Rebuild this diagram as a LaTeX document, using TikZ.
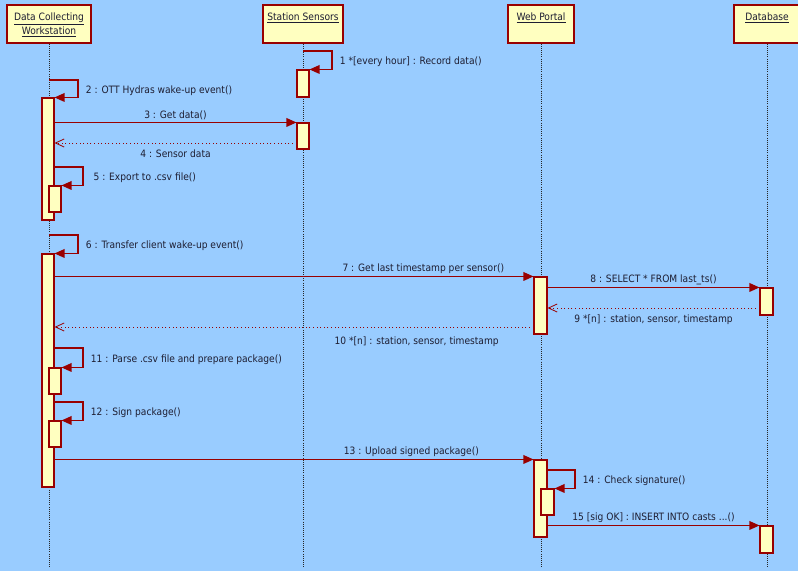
\documentclass[tikz,border=0pt]{standalone}
\usepackage{fontspec}
\setmainfont{DejaVu Sans}[FakeStretch=0.9]
\usetikzlibrary{arrows.meta,fit,positioning}
\definecolor{bgblue}{HTML}{99CCFF}
\definecolor{boxfill}{HTML}{FFFFC0}
\definecolor{boxline}{HTML}{990000}
\definecolor{txt}{HTML}{1E1E32}

\begin{document}
\begin{tikzpicture}[x=0.75pt, y=-0.75pt,
  every node/.style={font=\fontsize{7.6}{9}\selectfont, text=txt},
  head/.style={draw=boxline, fill=boxfill, line width=1pt, inner sep=0pt},
  headtext/.style={anchor=north, align=center, inner sep=0pt, yshift=-6pt},
  life/.style={densely dotted, line width=0.6pt, black!85},
  act/.style={draw=boxline, fill=boxfill, line width=0.8pt, inner sep=0pt},
  msg/.style={boxline, line width=0.9pt, -{Triangle[length=7.5pt, width=6.5pt]}},
  ret/.style={boxline, dotted, line width=0.7pt, -{Straight Barb[length=6.5pt, width=6pt, line width=0.6pt]}},
  lbla/.style={above, inner sep=1.4pt},
  lblb/.style={below, inner sep=4.8pt},
  lblr/.style={anchor=west, inner sep=0pt, xshift=5.5pt, yshift=-1.2pt}]
\fill[bgblue] (0,0) rectangle (798,571);
\useasboundingbox (0,0) rectangle (798,571);

% objects
\node[head, fit={(7,5) (91,43)}, label={[headtext]north:{\underline{Data Collecting}\\\underline{Workstation}}}] (dcw) {};
\node[head, fit={(263,5) (343,43)}, label={[headtext]north:\underline{Station Sensors}}] (ss) {};
\node[head, fit={(508,5) (574,43)}, label={[headtext]north:\underline{Web Portal}}] (wp) {};
\node[head, fit={(734,5) (800,43)}, label={[headtext]north:\underline{Database}}] (db) {};

\coordinate (dcwend) at (49,567);
\coordinate (ssend) at (303,567);
\coordinate (wpend) at (541,567);
\coordinate (dbend) at (767,567);
\draw[life] (dcw) -- (dcwend);
\draw[life] (ss) -- (ssend);
\draw[life] (wp) -- (wpend);
\draw[life] (db) -- (dbend);

% activations
\node[act, fit={(297,70) (309,97)}] (ss1) {};
\node[act, fit={(42,98) (54,220)}] (dcw1) {};
\node[act, fit={(297,123) (309,149)}] (ss2) {};
\node[act, fit={(49,186) (61,212)}] (dcw2) {};
\node[act, fit={(42,254) (54,487)}] (dcw3) {};
\node[act, fit={(534,277) (547,334)}] (wp1) {};
\node[act, fit={(760,288) (773,315)}] (db1) {};
\node[act, fit={(49,368) (61,394)}] (dcw4) {};
\node[act, fit={(49,421) (61,447)}] (dcw5) {};
\node[act, fit={(534,460) (547,537)}] (wp2) {};
\node[act, fit={(541,489) (554,515)}] (wp3) {};
\node[act, fit={(760,526) (773,553)}] (db2) {};

% self calls
\coordinate (l1) at (303,51);
\coordinate (l2) at (49,80);
\coordinate (l5) at (54,167);
\coordinate (l6) at (49,235);
\coordinate (l11) at (54,348);
\coordinate (l12) at (54,402);
\coordinate (l14) at (547,470);
\draw[msg] (l1) -- ++(29,0) |- (ss1.north east) node[lblr, pos=0.25] {1 *[every hour] : Record data()};
\draw[msg] (l2) -- ++(29,0) |- (dcw1.north east) node[lblr, pos=0.25] {2 : OTT Hydras wake-up event()};
\draw[msg] (l5) -- ++(29,0) |- (dcw2.north east) node[lblr, pos=0.25, xshift=2pt] {5 : Export to .csv file()};
\draw[msg] (l6) -- ++(29,0) |- (dcw3.north east) node[lblr, pos=0.25] {6 : Transfer client wake-up event()};
\draw[msg] (l11) -- ++(29,0) |- (dcw4.north east) node[lblr, pos=0.25] {11 : Parse .csv file and prepare package()};
\draw[msg] (l12) -- ++(29,0) |- (dcw5.north east) node[lblr, pos=0.25] {12 : Sign package()};
\draw[msg] (l14) -- ++(28,0) |- (wp3.north east) node[lblr, pos=0.25] {14 : Check signature()};

% messages
\draw[msg] (dcw1.east |- ss2.north) -- (ss2.north west) node[lbla, midway] {3 : Get data()};
\draw[ret] (ss2.west |- 0,143) -- (dcw1.east |- 0,143) node[lblb, midway] {4 : Sensor data};
\draw[msg] (dcw3.east |- wp1.north) -- (wp1.north west) node[lbla, pos=0.77] {7 : Get last timestamp per sensor()};
\draw[msg] (wp1.east |- db1.north) -- (db1.north west) node[lbla, midway] {8 : SELECT * FROM last\_ts()};
\draw[ret] (db1.west |- 0,308) -- (wp1.east |- 0,308) node[lblb, midway] {9 *[n] : station, sensor, timestamp};
\draw[ret] (wp1.west |- 0,327) -- (dcw3.east |- 0,327) node[lblb, pos=0.244, yshift=-2pt] {10 *[n] : station, sensor, timestamp};
\draw[msg] (dcw3.east |- wp2.north) -- (wp2.north west) node[lbla, pos=0.745] {13 : Upload signed package()};
\draw[msg] (wp2.east |- db2.north) -- (db2.north west) node[lbla, midway] {15 [sig OK] : INSERT INTO casts ...()};
\end{tikzpicture}
\end{document}
